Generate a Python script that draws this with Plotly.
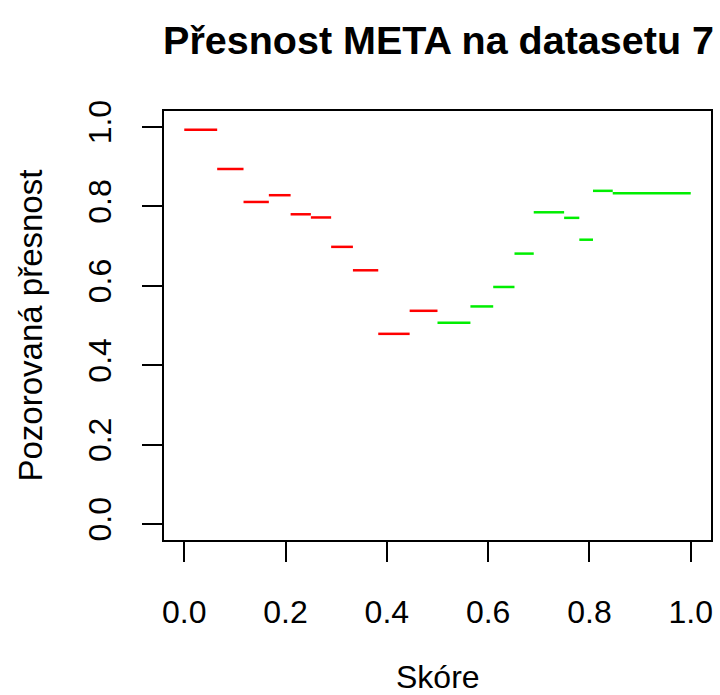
import plotly.graph_objects as go

# Score bins (lower / upper edge) and the observed accuracy within each bin
bin_lo = [0.000, 0.065, 0.117, 0.167, 0.210, 0.250, 0.290, 0.333, 0.383, 0.445,
          0.500, 0.565, 0.610, 0.652, 0.690, 0.750, 0.780, 0.807, 0.846]
bin_hi = [0.065, 0.117, 0.167, 0.210, 0.250, 0.290, 0.333, 0.383, 0.445, 0.500,
          0.565, 0.610, 0.652, 0.690, 0.750, 0.780, 0.807, 0.846, 1.000]
accuracy = [0.993, 0.894, 0.811, 0.828, 0.780, 0.772, 0.698, 0.639, 0.479, 0.537,
            0.507, 0.548, 0.597, 0.681, 0.785, 0.771, 0.716, 0.839, 0.833]

tick_vals = [0.0, 0.2, 0.4, 0.6, 0.8, 1.0]
tick_text = ["0.0", "0.2", "0.4", "0.6", "0.8", "1.0"]

FONT = "Liberation Sans, Arial, sans-serif"

fig = go.Figure()

# Bins below 0.5 in red, the rest in green
for lo, hi, acc in zip(bin_lo, bin_hi, accuracy):
    colour = "#FF0000" if lo < 0.5 else "#00EE00"
    fig.add_trace(go.Scatter(
        x=[lo, hi], y=[acc, acc], mode="lines",
        line=dict(color=colour, width=2.5),
        showlegend=False, hoverinfo="skip",
    ))

axis_common = dict(
    range=[-0.04, 1.04],
    tickvals=tick_vals, ticktext=tick_text,
    showgrid=False, zeroline=False,
    showline=True, mirror=True, linecolor="black", linewidth=2,
    ticks="outside", ticklen=20, tickwidth=2, tickcolor="black",
    tickfont=dict(family=FONT, size=32, color="black"),
)

fig.update_layout(
    width=720, height=695,
    margin=dict(l=164, r=7, t=111, b=155),
    paper_bgcolor="white", plot_bgcolor="white",
    xaxis=dict(**axis_common, ticklabelstandoff=23),
    yaxis=dict(**axis_common, tickangle=-90, ticklabelstandoff=18),
    title=dict(
        text="<b>Přesnost META na datasetu 7</b>",
        font=dict(family=FONT, size=39.5, color="black"),
        x=(164 + 713) / 2 / 720, xanchor="center",
        y=1 - 40 / 695, yanchor="middle",
    ),
    annotations=[
        dict(text="Skóre", xref="paper", yref="paper", x=0.5, y=0,
             xanchor="center", yanchor="middle", yshift=-137, showarrow=False,
             font=dict(family=FONT, size=32, color="black")),
        dict(text="Pozorovaná přesnost", xref="paper", yref="paper", x=0, y=0.5,
             xanchor="center", yanchor="middle", xshift=-134, textangle=-90,
             showarrow=False, font=dict(family=FONT, size=33, color="black")),
    ],
)

fig.write_html("out.html")
